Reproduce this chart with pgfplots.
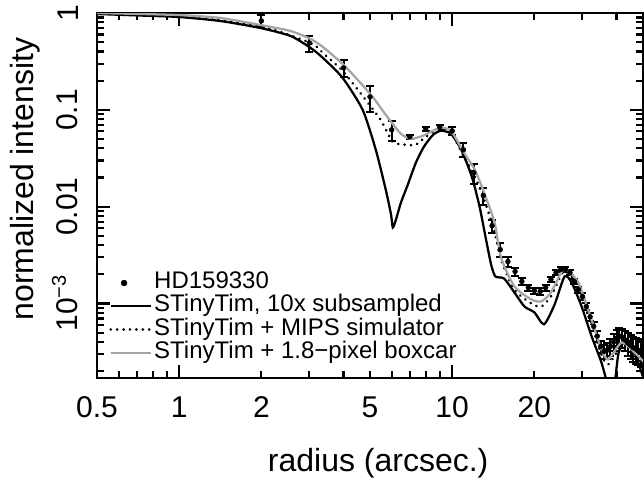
\documentclass[border=0pt]{standalone}
\usepackage{fontspec}
\setmainfont{Liberation Sans}
\usepackage{pgfplots}
\pgfplotsset{compat=1.18}
\definecolor{boxgray}{RGB}{165,165,165}
\begin{document}
\begin{tikzpicture}
\path[use as bounding box] (-72.75pt,-78.75pt) rectangle (410.25pt,283.5pt);
\begin{axis}[
  at={(0,0)}, anchor=south west,
  scale only axis, width=409.5pt, height=273.75pt,
  xmode=log, ymode=log,
  xmin=0.5, xmax=50, ymin=1.7e-4, ymax=1,
  axis line style={line width=2pt},
  tick style={line width=1.6pt, black},
  major tick length=10pt, minor tick length=5pt,
  xtick={1,10}, xticklabels={1,10},
  extra x ticks={0.5,2,5,20}, extra x tick labels={0.5,2,5,20},
  extra x tick style={major tick length=5pt},
  minor xtick={0.6,0.7,0.8,0.9,3,4,6,7,8,9,30,40},
  ytick={0.001,0.01,0.1,1},
  yticklabels={10\raisebox{0.75ex}{\fontsize{15}{17}\selectfont −3},0.01,0.1,1},
  minor ytick={2e-4,3e-4,4e-4,5e-4,6e-4,7e-4,8e-4,9e-4,0.002,0.003,0.004,0.005,0.006,0.007,0.008,0.009,0.02,0.03,0.04,0.05,0.06,0.07,0.08,0.09,0.2,0.3,0.4,0.5,0.6,0.7,0.8,0.9},
  /pgf/number format/assume math mode=true,
  tick label style={font=\fontsize{22.5}{26}\selectfont},
  xticklabel style={anchor=north, inner sep=0pt, inner ysep=14pt},
  yticklabel style={rotate=90, anchor=south, inner sep=0pt, inner ysep=14pt},
  xlabel={radius (arcsec.)},
  xlabel style={at={(rel axis cs:0.515,-0.233)}, anchor=center, font=\fontsize{24}{28}\selectfont},
  ylabel={normalized intensity},
  ylabel style={at={(rel axis cs:-0.132,0.545)}, anchor=center, font=\fontsize{24}{28}\selectfont},
  legend style={at={(rel axis cs:0.022,0.293)}, anchor=north west, draw=none, fill=none,
    inner sep=0pt, row sep=0pt, column sep=1.5pt, font=\fontsize{18}{20}\selectfont,
    nodes={inner sep=0pt, text height=13pt, text depth=4.5pt}},
  legend cell align=left,
  legend image code/.code={\draw[#1] (0pt,0pt) -- (30pt,0pt);},
]
% HD159330 data
\addplot[only marks, mark=*, mark size=1.8pt, black,
  legend image code/.code={\fill[black] (10pt,0pt) circle (2.2pt);},
  error bars/.cd, y dir=both, y explicit,
  error bar style={line width=1.5pt, black},
  error mark options={mark size=3pt, line width=1.5pt, black, rotate=90}]
coordinates {
(2,0.83) +- (0,0.12)
(3,0.49) +- (0,0.095)
(4,0.271) +- (0,0.055)
(5,0.136) +- (0,0.04)
(6,0.0622) +- (0,0.015)
(7,0.0527) +- (0,0.0025)
(8,0.0637) +- (0,0.003)
(9,0.0668) +- (0,0.003)
(10,0.0606) +- (0,0.006)
(11,0.0387) +- (0,0.0064)
(12,0.0224) +- (0,0.0053)
(13,0.0130) +- (0,0.0026)
(14,0.00637) +- (0,0.001)
(15,0.0036) +- (0,0.0006)
(16,0.00271) +- (0,0.0003)
(17,0.00214) +- (0,0.0002)
(18,0.00169) +- (0,0.00015)
(19,0.00146) +- (0,0.0001)
(20,0.00136) +- (0,0.0001)
(21,0.00133) +- (0,0.0001)
(22,0.00146) +- (0,0.0001)
(23,0.00177) +- (0,0.0001)
(24,0.00209) +- (0,0.00012)
(25,0.00224) +- (0,0.00012)
(26,0.00224) +- (0,0.00012)
(27,0.00209) +- (0,0.00012)
(28,0.00169) +- (0,0.0001)
(29,0.00139) +- (0,0.0001)
(30,0.00118) +- (0,0.0001)
(31,0.00093) +- (0,0.00008)
(32,0.00073) +- (0,0.00007)
(33,0.00058) +- (0,0.00006)
(34,0.00046) +- (0,0.00006)
(35,0.00036) +- (0,0.00005)
(36,0.00032) +- (0,0.00005)
(37,0.00033) +- (0,0.00006)
(38,0.00036) +- (0,0.00007)
(39,0.00040) +- (0,0.00008)
(40,0.00044) +- (0,0.00009)
(41,0.00046) +- (0,0.0001)
(42,0.00045) +- (0,0.0001)
(43,0.00042) +- (0,0.0001)
(44,0.00039) +- (0,0.0001)
(45,0.00037) +- (0,0.0001)
(46,0.00035) +- (0,0.0001)
(47,0.00034) +- (0,0.0001)
(48,0.00033) +- (0,0.0001)
(49,0.00032) +- (0,0.0001)
};
\addlegendentry{HD159330}
% STinyTim 10x subsampled
\addplot[black, line width=1.7pt, smooth, tension=0.4] coordinates {
(0.5,0.977) (0.719,0.942) (1.0,0.909) (1.415,0.827) (1.985,0.700) (2.56,0.579)
(3.03,0.436) (3.36,0.344) (3.97,0.214) (4.70,0.100) (5.25,0.0387) (5.71,0.0150)
(5.97,0.0083) (6.06,0.0061) (6.22,0.0073) (6.49,0.0110) (6.88,0.0169) (7.36,0.0284)
(7.88,0.0416) (8.51,0.0552) (9.1,0.0608) (9.9,0.0566) (10.8,0.0387) (11.8,0.0204)
(12.6,0.0100) (13.3,0.0046) (13.9,0.0025) (14.4,0.0019) (15.5,0.00181) (16.9,0.00130)
(18.4,0.00093) (20.0,0.00081) (21.7,0.00061) (23.7,0.00097) (25.8,0.0019) (27.4,0.00164)
(29.8,0.00093) (32.4,0.00046) (35.2,0.000247) (37.3,0.00014) (39.0,0.00012)
(40.7,0.00031) (43.6,0.00043) (46.5,0.00032) (50.5,0.00016)
};
\addlegendentry{STinyTim, 10x subsampled}
% MIPS simulator
\addplot[black, line width=2.2pt, line cap=round, dash pattern=on 0.01pt off 4.8pt, smooth, tension=0.4] coordinates {
(0.5,0.99) (1.0,0.93) (1.985,0.73) (3.03,0.49) (3.36,0.387) (3.97,0.252) (4.70,0.139)
(5.47,0.0789) (6.06,0.0468) (6.77,0.0436) (7.36,0.0436) (8.0,0.0527) (9.0,0.0637)
(9.9,0.058) (11.0,0.0336) (12.1,0.0204) (13.1,0.0118) (14.3,0.0055) (15.1,0.00284)
(16.9,0.00139) (19.5,0.00100) (21.2,0.00093) (23.0,0.00118) (25.1,0.00199) (26.2,0.00214)
(29.0,0.0015) (32.4,0.00061) (35.2,0.000298) (37.3,0.000235) (41.8,0.00036)
(46.5,0.000284) (50.5,0.000219)
};
\addlegendentry{STinyTim + MIPS simulator}
% boxcar
\addplot[boxgray, line width=1.7pt, smooth, tension=0.4] coordinates {
(0.5,1.0) (1.0,0.953) (1.415,0.888) (1.985,0.752) (2.56,0.652) (3.03,0.539)
(3.36,0.446) (4.04,0.284) (5.04,0.143) (5.82,0.0827) (6.49,0.0566) (7.05,0.0502)
(7.82,0.054) (9.0,0.0652) (9.9,0.0606) (11.0,0.0369) (12.1,0.0241) (13.1,0.0139)
(14.3,0.00684) (15.1,0.00298) (16.9,0.0015) (19.5,0.0011) (21.2,0.00105) (23.0,0.0013)
(25.1,0.00209) (26.2,0.00224) (29.0,0.00164) (32.4,0.00068) (35.2,0.000336)
(37.3,0.000265) (41.8,0.000396) (46.5,0.000313) (50.5,0.000247)
};
\addlegendentry{STinyTim + 1.8−pixel boxcar}
\end{axis}
\end{tikzpicture}
\end{document}
